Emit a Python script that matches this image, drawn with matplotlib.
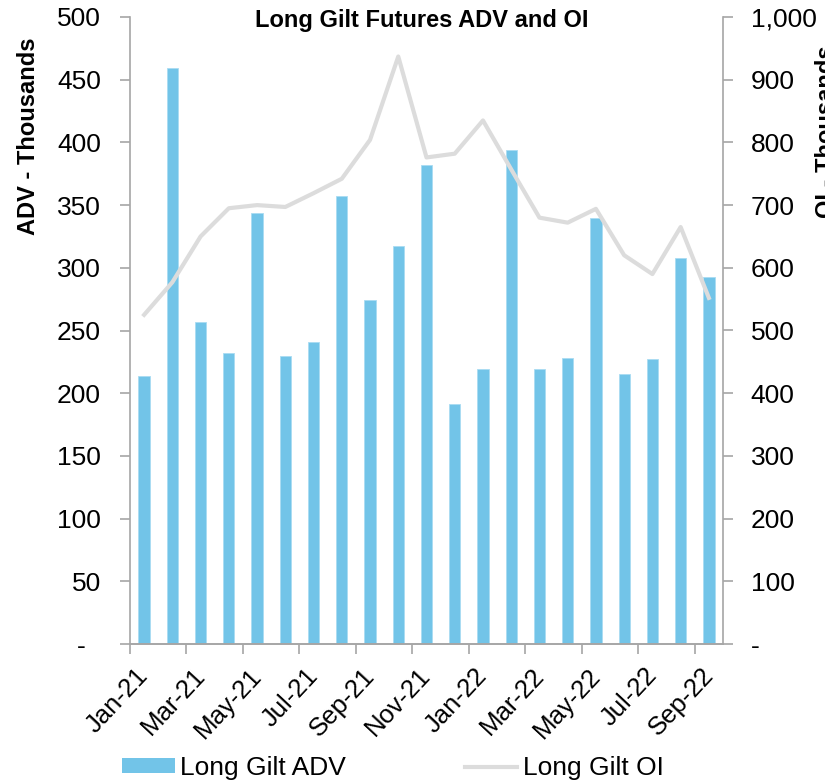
import matplotlib
matplotlib.use("Agg")
import matplotlib.pyplot as plt
from matplotlib.ticker import FuncFormatter
from matplotlib.lines import Line2D
from matplotlib.patches import Patch

plt.rcParams['font.family'] = ['Liberation Sans', 'DejaVu Sans']

months = ["Jan-21", "Feb-21", "Mar-21", "Apr-21", "May-21", "Jun-21", "Jul-21",
          "Aug-21", "Sep-21", "Oct-21", "Nov-21", "Dec-21", "Jan-22", "Feb-22",
          "Mar-22", "Apr-22", "May-22", "Jun-22", "Jul-22", "Aug-22", "Sep-22"]
adv = [214, 459, 257, 232, 344, 230, 241, 357, 274, 317, 382, 191, 219, 394,
       219, 228, 340, 215, 227, 308, 293]
oi = [525, 577, 650, 695, 700, 697, 719, 742, 804, 937, 776, 782, 835, 757,
      680, 672, 694, 620, 590, 665, 552]
tick_labels = months[::2]

W, H = 825, 783
FS = 19
fig = plt.figure(figsize=(W / 100, H / 100), dpi=100)
ax = fig.add_axes([130 / W, 1 - 644 / H, (723 - 130) / W, (644 - 17) / H])
ax2 = ax.twinx()

x = list(range(len(months)))
bar_color = '#72c4e8'
line_color = '#dcdcdc'
ax.bar(x, adv, width=0.40, color=bar_color, edgecolor='#a9dcf2', linewidth=0.6, zorder=2)
ax2.plot(x, oi, color=line_color, linewidth=3, zorder=3)

ax.set_xlim(-0.5, len(months) - 0.5)
ax.set_ylim(0, 500)
ax2.set_ylim(0, 1000)
ax.set_yticks(range(0, 501, 50))
ax2.set_yticks(range(0, 1001, 100))

def fmt_left(v, pos):
    return '-  ' if v == 0 else f"{int(v):,}"

def fmt_right(v, pos):
    return '-' if v == 0 else f"{int(v):,}"

ax.yaxis.set_major_formatter(FuncFormatter(fmt_left))
ax2.yaxis.set_major_formatter(FuncFormatter(fmt_right))

# tick marks at category boundaries, labels near the following bar
ax.set_xticks([i - 0.5 for i in range(0, len(months), 2)])
ax.set_xticklabels([])
ax.set_xticks([i - 0.3 for i in range(0, len(months), 2)], minor=True)
ax.set_xticklabels(tick_labels, minor=True, rotation=47, ha='right', va='top',
                   rotation_mode='anchor', fontsize=18.5)
ax.tick_params(axis='x', which='minor', length=0, pad=14)

spine_col = '#a6a6a6'
for a in (ax, ax2):
    a.spines['top'].set_visible(False)
    for s in ('left', 'right', 'bottom'):
        a.spines[s].set_color(spine_col)
        a.spines[s].set_linewidth(1.2)
    a.tick_params(which='major', colors=spine_col, labelcolor='black', labelsize=FS,
                  length=7, width=1.2)
ax.spines['right'].set_visible(False)
ax2.spines['left'].set_visible(False)
ax.tick_params(axis='y', pad=14)
ax2.tick_params(axis='y', pad=13)

ax.set_zorder(1)
ax2.set_zorder(2)
ax2.patch.set_visible(False)

fig.text(422 / W, 1 - 20 / H, "Long Gilt Futures ADV and OI", ha='center', va='center',
         fontsize=17, fontweight='bold')
fig.text(29 / W, 1 - 136 / H, "ADV - Thousands", rotation=90, ha='center', va='center',
         fontsize=17, fontweight='bold')
fig.text(815 / W, 1 - 132 / H, "OI - Thousands", rotation=90, ha='left', va='center',
         fontsize=17, fontweight='bold')

handles = [Patch(facecolor=bar_color, edgecolor='none'),
           Line2D([0], [0], color=line_color, linewidth=3)]
fig.legend(handles, ["Long Gilt ADV", "Long Gilt OI"], loc='center left',
           bbox_to_anchor=(122 / W, 1 - 768 / H), ncol=2, frameon=False,
           fontsize=FS, columnspacing=4.5, handlelength=2.0, handletextpad=0.2,
           handleheight=0.5, borderpad=0, borderaxespad=0)

fig.savefig("out.png", dpi=100)
